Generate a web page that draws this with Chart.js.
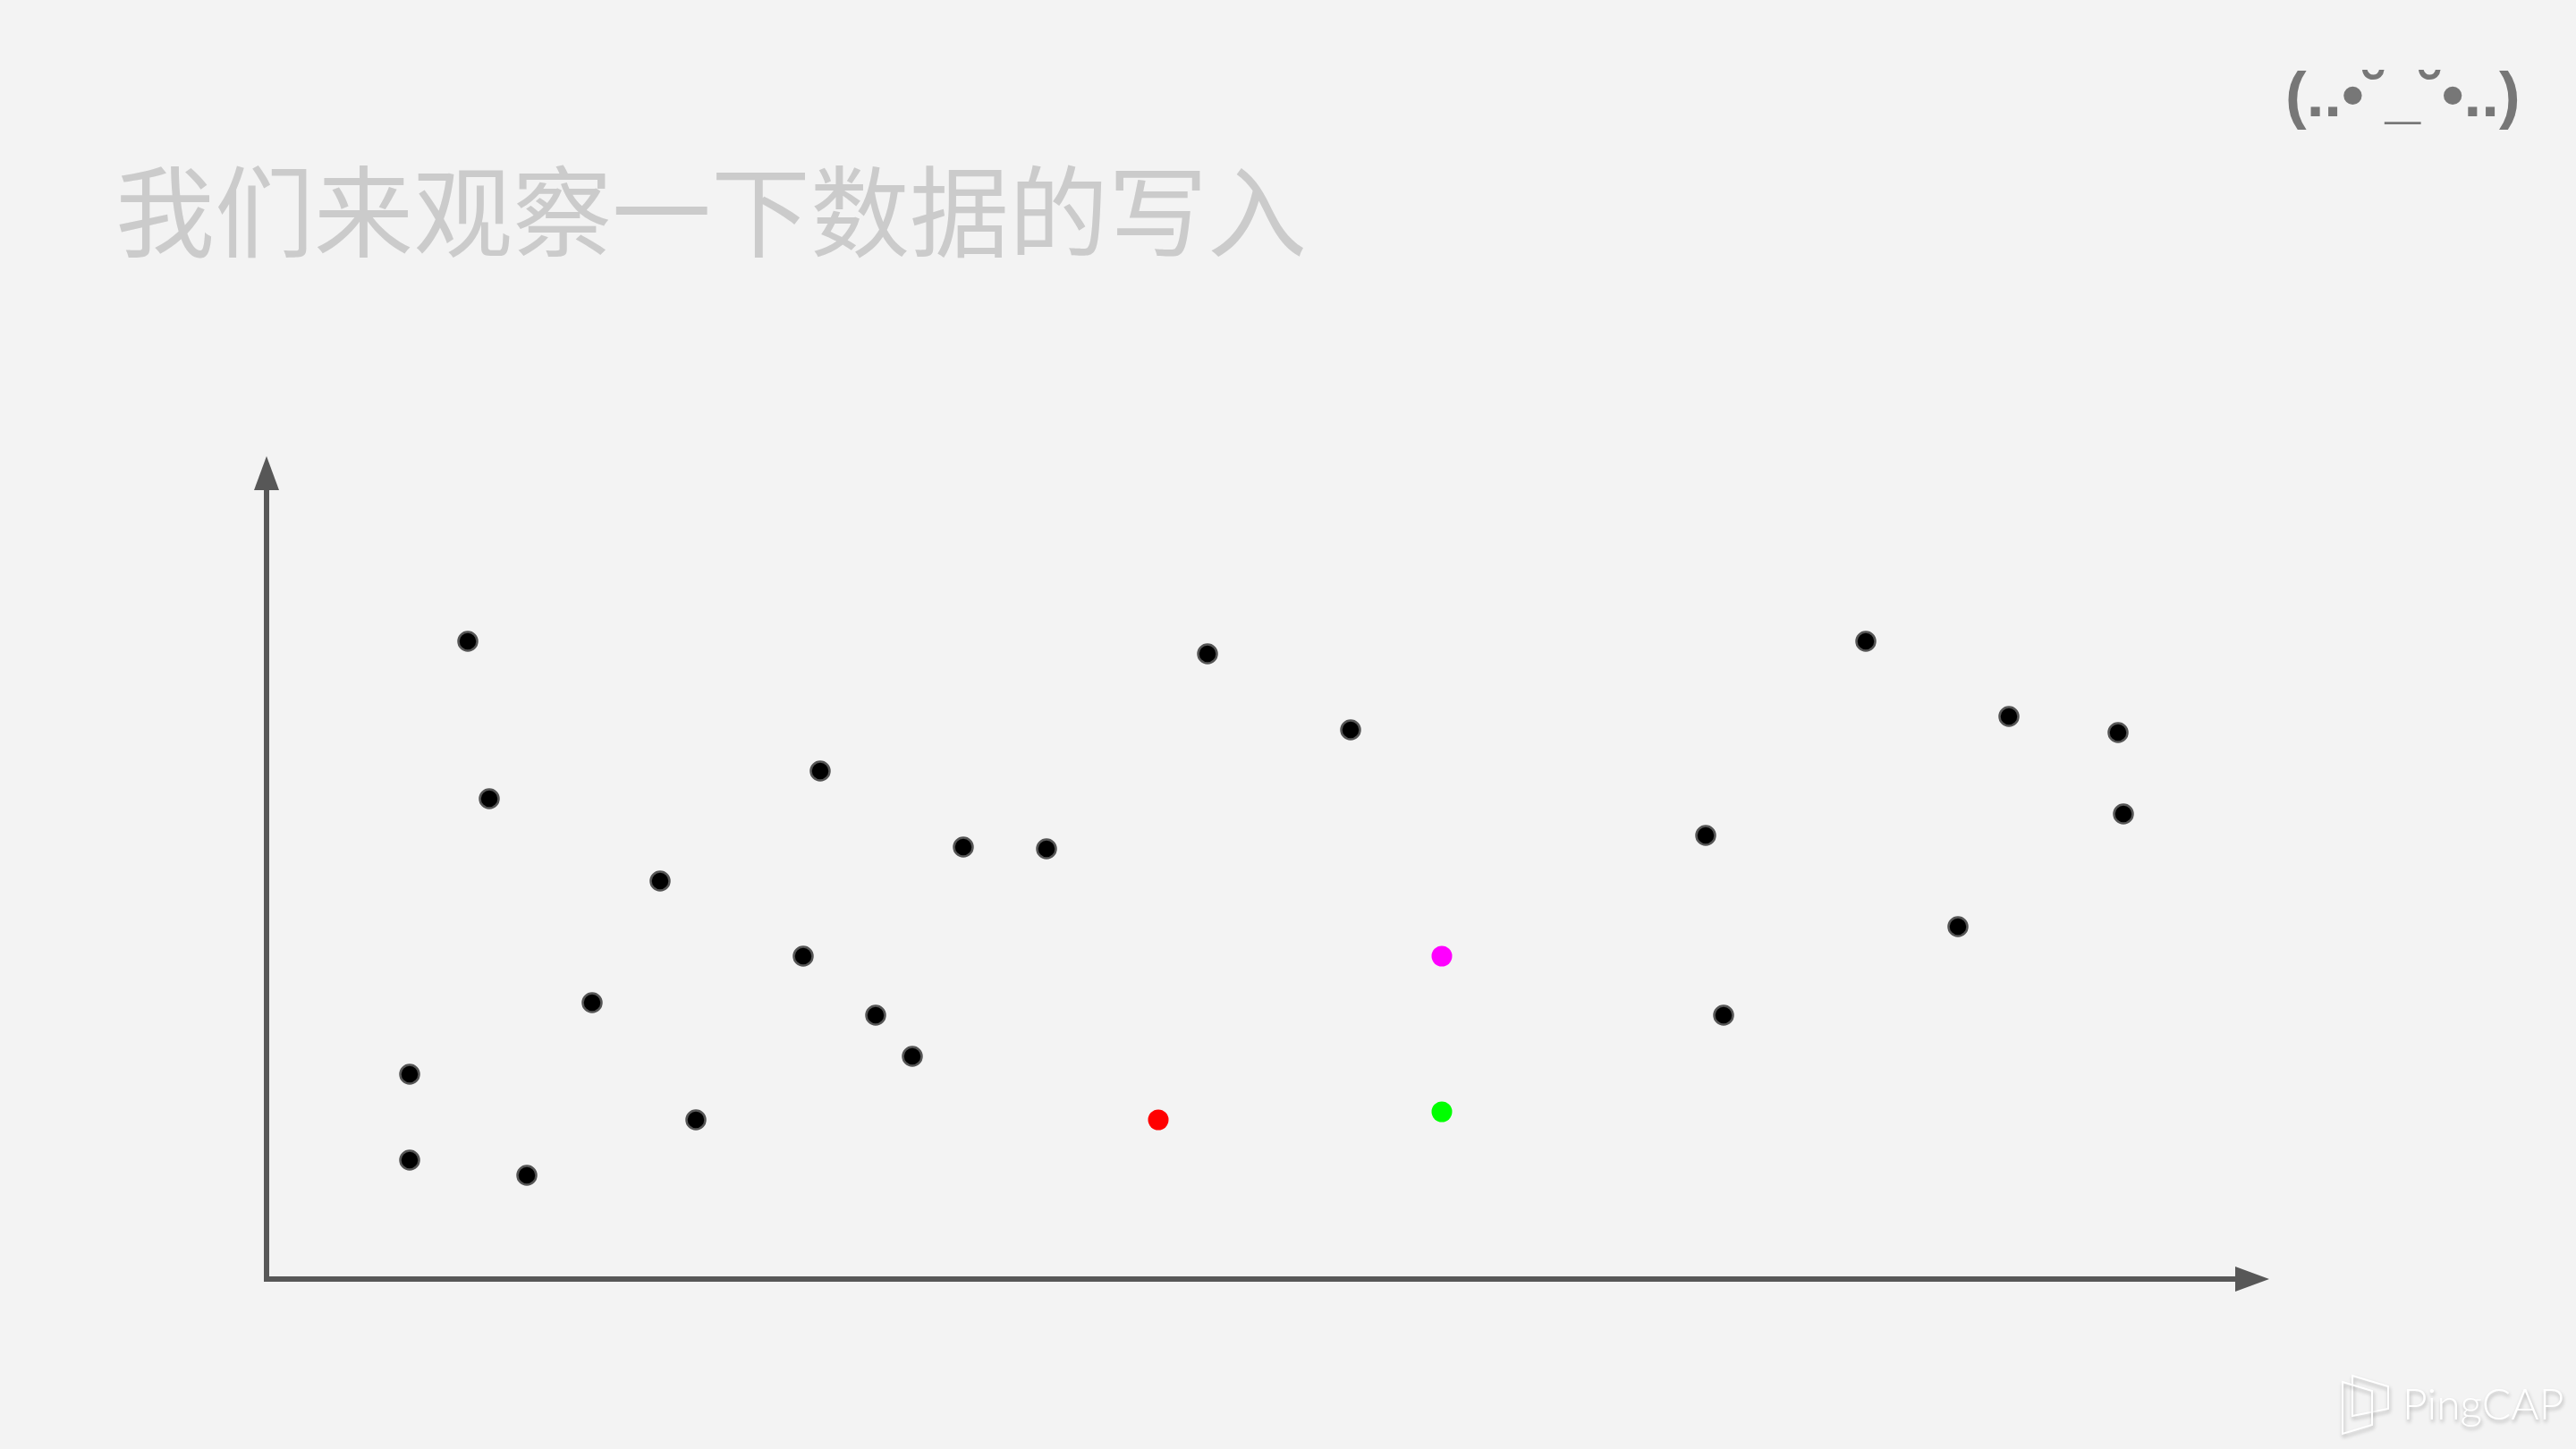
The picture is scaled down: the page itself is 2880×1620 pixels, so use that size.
<!DOCTYPE html>
<html>
<head>
<meta charset="utf-8">
<script src="https://cdn.jsdelivr.net/npm/chart.js@4.4.0/dist/chart.umd.min.js"></script>
<style>
  html, body { margin: 0; padding: 0; background: #f3f3f3; }
  #wrap { position: relative; width: 2880px; height: 1620px; overflow: hidden; background: #f3f3f3; }
  #c { position: absolute; left: 0; top: 0; }
  #title { position: absolute; left: 129px; top: 164px; font-family: "Noto Sans CJK SC", sans-serif; font-size: 111px; line-height: 1.2; color: #cbcbcb; white-space: nowrap; font-weight: 400; }
  #face { position: absolute; left: 2555px; top: 63px; font-family: "Liberation Sans", sans-serif; font-weight: bold; font-size: 71px; line-height: 1.2; color: #777777; white-space: nowrap; }
  #brand { position: absolute; left: 2686px; top: 1540px; font-family: "Lato", sans-serif; font-weight: 300; font-size: 48px; line-height: 1.2; color: #ffffff; white-space: nowrap; text-shadow: 1px 3px 4px rgba(0,0,0,0.28); }
</style>
</head>
<body>
<div id="wrap">
  <canvas id="c" width="2880" height="1620"></canvas>
  <div id="title">我们来观察一下数据的写入</div>
  <div id="face">(..•˘_˘•..)</div>
  <div id="brand">PingCAP</div>
</div>
<script>
// Data (units: distance from the axis origin)
const blackX = [225, 249, 160, 160, 291, 364, 440, 480, 619, 600, 681, 722, 779, 872, 1052, 1212, 1609, 1629, 1788, 1891, 1948, 2070, 2076];
const blackY = [713, 537, 229, 133, 116, 309, 445, 178, 568, 361, 295, 249, 483, 481, 699, 614, 496, 295, 713, 394, 629, 611, 520];
const redX = [997];
const redY = [178];
const magentaX = [1314];
const magentaY = [361];
const greenX = [1314];
const greenY = [187];
const xMax = 2239;
const yMax = 920;

function pts(xs, ys) { return xs.map((x, i) => ({ x: x, y: ys[i] })); }

const axesPlugin = {
  id: 'arrowAxes',
  beforeDatasetsDraw(chart) {
    const ctx = chart.ctx;
    const xs = chart.scales.x, ys = chart.scales.y;
    const ox = xs.getPixelForValue(0), oy = ys.getPixelForValue(0);
    const tx = xs.getPixelForValue(xMax), ty = ys.getPixelForValue(yMax);
    const ah = 38, aw = 14;
    ctx.save();
    ctx.strokeStyle = '#575757';
    ctx.fillStyle = '#575757';
    ctx.lineWidth = 6;
    ctx.lineJoin = 'miter';
    ctx.lineCap = 'butt';
    ctx.beginPath();
    ctx.moveTo(ox, ty + ah);
    ctx.lineTo(ox, oy);
    ctx.lineTo(tx - ah, oy);
    ctx.stroke();
    ctx.beginPath();
    ctx.moveTo(ox, ty);
    ctx.lineTo(ox - aw, ty + ah);
    ctx.lineTo(ox + aw, ty + ah);
    ctx.closePath();
    ctx.fill();
    ctx.beginPath();
    ctx.moveTo(tx, oy);
    ctx.lineTo(tx - ah, oy - aw);
    ctx.lineTo(tx - ah, oy + aw);
    ctx.closePath();
    ctx.fill();
    ctx.restore();
  },
  afterDraw(chart) {
    // PingCAP logo mark
    const ctx = chart.ctx;
    ctx.save();
    ctx.strokeStyle = '#ffffff';
    ctx.lineWidth = 2;
    ctx.shadowColor = 'rgba(0,0,0,0.28)';
    ctx.shadowOffsetX = 1;
    ctx.shadowOffsetY = 3;
    ctx.shadowBlur = 4;
    ctx.beginPath();
    ctx.moveTo(2630, 1538); ctx.lineTo(2670, 1550); ctx.lineTo(2670, 1575); ctx.lineTo(2630, 1583); ctx.closePath();
    ctx.stroke();
    ctx.beginPath();
    ctx.moveTo(2619, 1545); ctx.lineTo(2652, 1555); ctx.lineTo(2652, 1593); ctx.lineTo(2619, 1603); ctx.closePath();
    ctx.stroke();
    ctx.restore();
  }
};

new Chart(document.getElementById('c'), {
  type: 'scatter',
  data: {
    datasets: [
      { data: pts(blackX, blackY), backgroundColor: '#000000', borderColor: '#555555', borderWidth: 2.5, pointRadius: 10.5 },
      { data: pts(redX, redY), backgroundColor: '#ff0000', borderColor: '#ff0000', borderWidth: 0, pointRadius: 11.5 },
      { data: pts(magentaX, magentaY), backgroundColor: '#ff00ff', borderColor: '#ff00ff', borderWidth: 0, pointRadius: 11.5 },
      { data: pts(greenX, greenY), backgroundColor: '#00ff00', borderColor: '#00ff00', borderWidth: 0, pointRadius: 11.5 }
    ]
  },
  options: {
    responsive: false,
    devicePixelRatio: 1,
    animation: false,
    layout: { padding: { left: 298, right: 343, top: 510, bottom: 190 } },
    plugins: { legend: { display: false }, tooltip: { enabled: false } },
    scales: {
      x: { type: 'linear', min: 0, max: xMax, display: false },
      y: { type: 'linear', min: 0, max: yMax, display: false }
    }
  },
  plugins: [axesPlugin]
});
</script>
</body>
</html>
